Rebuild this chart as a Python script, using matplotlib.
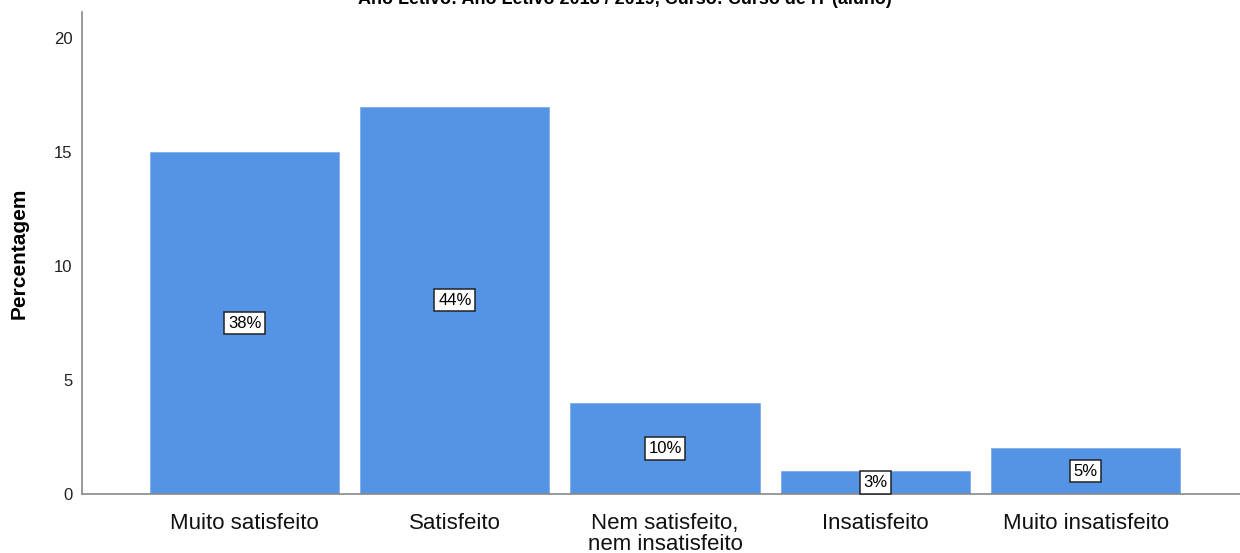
import matplotlib
matplotlib.use("Agg")
import matplotlib.pyplot as plt

categories = ["Muito satisfeito", "Satisfeito", "Nem satisfeito,\nnem insatisfeito", "Insatisfeito", "Muito insatisfeito"]
values = [15, 17, 4, 1, 2]
pct_labels = ["38%", "44%", "10%", "3%", "5%"]
y_ticks = [0, 5, 10, 15, 20]
title = "Ano Letivo: Ano Letivo 2018 / 2019, Curso: Curso de IT (aluno)"

plt.rcParams['font.family'] = ['Liberation Sans', 'DejaVu Sans']

fig = plt.figure(figsize=(12.4, 5.53), dpi=100)
ax = fig.add_axes([82/1240, 59/553, 1 - 82/1240, (494-12)/553])

x = list(range(len(categories)))
ax.bar(x, values, width=0.9, color="#5594E4", edgecolor="#7EAEEA", linewidth=0.6, zorder=2)
for xi, v, lab in zip(x, values, pct_labels):
    ax.text(xi, v/2, lab, ha='center', va='center', fontsize=12, color='black', zorder=3,
            bbox=dict(boxstyle='square,pad=0.22', facecolor='white', edgecolor='#222222', linewidth=1.1))

ax.set_xlim(-0.773, 4.734)
ax.set_ylim(0, 21.15)
ax.set_yticks(y_ticks)
ax.set_yticklabels([str(t) for t in y_ticks], fontsize=12, color='#222222')
ax.set_xticks(x)
ax.set_xticklabels(categories, fontsize=16, color='#111111', linespacing=0.95)
ax.tick_params(axis='both', length=0)
ax.tick_params(axis='y', pad=7)
ax.tick_params(axis='x', pad=14)
ax.set_ylabel("Percentagem", fontsize=15, fontweight='bold', labelpad=18)
for s in ['top', 'right']:
    ax.spines[s].set_visible(False)
for s in ['left', 'bottom']:
    ax.spines[s].set_color('#888888')
    ax.spines[s].set_linewidth(1.2)

fig.text(625/1240, 1.0, title, ha='center', va='center', fontsize=13, fontweight='bold')

fig.savefig("out.png", dpi=100)
